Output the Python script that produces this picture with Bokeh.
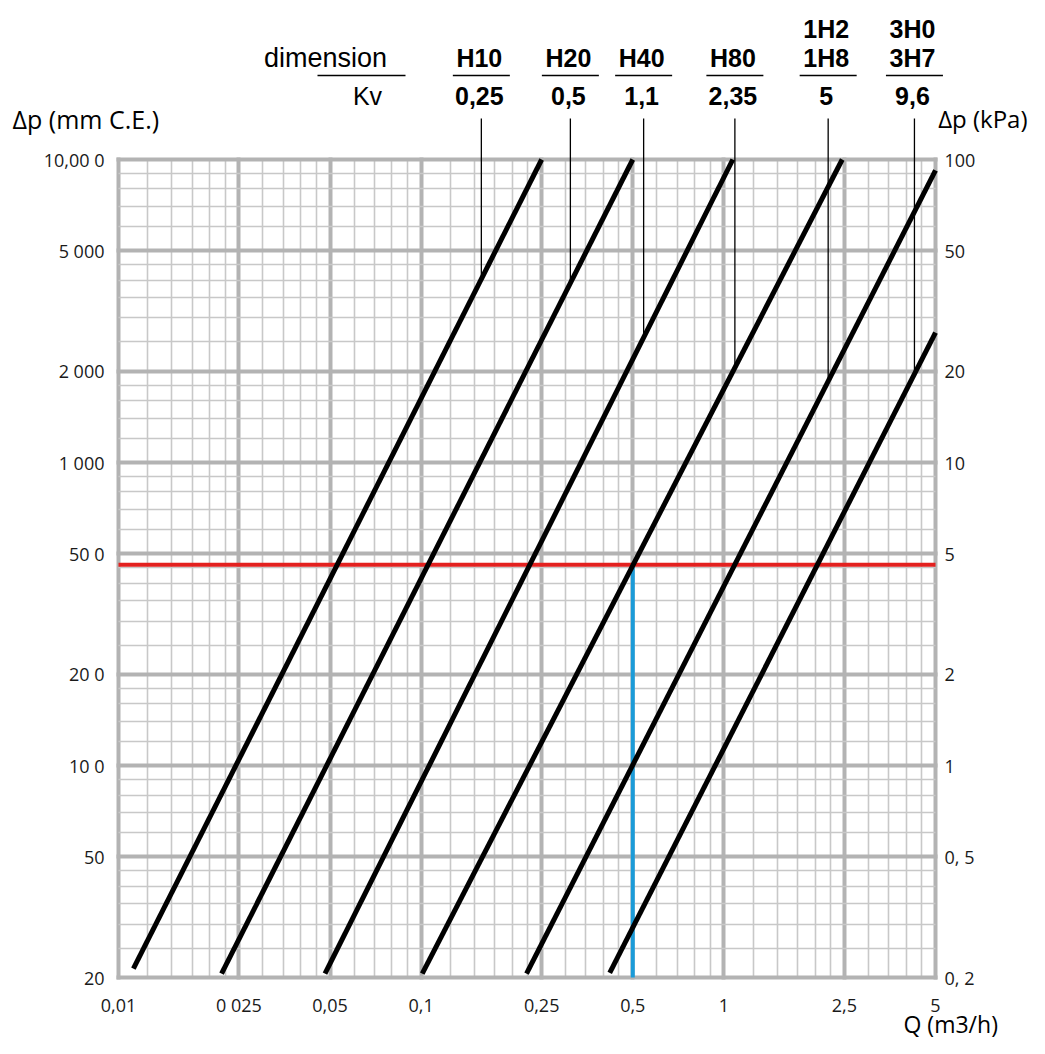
import math
from bokeh.plotting import figure
from bokeh.models import FixedTicker, LogAxis, Range1d, LogScale, Label
from bokeh.embed import file_html
from bokeh.resources import INLINE

# ---------------- data ----------------
q_range = (0.01, 5)          # Q (m3/h)
dp_range = (20, 10000)       # Δp (mm C.E.)
kpa_range = (0.2, 100)       # Δp (kPa)

q_ticks = [0.01, 0.025, 0.05, 0.1, 0.25, 0.5, 1, 2.5, 5]
q_tick_labels = ["0,01", "0 025", "0,05", "0,1", "0,25", "0,5", "1", "2,5", "5"]
dp_ticks = [20, 50, 100, 200, 500, 1000, 2000, 5000, 10000]
dp_tick_labels = ["20", "50", "10 0", "20 0", "50 0", "1 000", "2 000", "5 000", "10,00 0"]
kpa_ticks = [0.2, 0.5, 1, 2, 5, 10, 20, 50, 100]
kpa_tick_labels = ["0, 2", "0, 5", "1", "2", "5", "10", "20", "50", "100"]

q_minor_steps = [1.25, 1.5, 1.75, 2, 2.25, 3, 3.5, 4, 4.5, 6, 7, 8, 9]
dp_minor_steps = [1.2, 1.4, 1.6, 1.8, 2.5, 3, 3.5, 4, 4.5, 6, 7, 8, 9]

models_top = ["", "", "", "", "1H2", "3H0"]
models_mid = ["H10", "H20", "H40", "H80", "1H8", "3H7"]
kv_text = ["0,25", "0,5", "1,1", "2,35", "5", "9,6"]

# straight lines (log-log): start / end points
curve_q0 = [0.0112, 0.0219, 0.0481, 0.1008, 0.2228, 0.4195]
curve_dp0 = [21.4, 20.6, 20.6, 20.6, 20.6, 20.7]
curve_q1 = [0.25, 0.5, 1.07, 2.46, 5.0, 5.0]
curve_dp1 = [10000, 10000, 10000, 10000, 9200, 2685]

leader_q = [0.158, 0.311, 0.543, 1.087, 2.21, 4.26]

red_dp = 460
blue_q = 0.5

# ---------------- geometry ----------------
W, H = 1029, 1038
X0, X1 = 118, 935      # canvas px of q_range
Y0, Y1 = 159, 977      # canvas px of dp_range top / bottom
LQ = math.log10(q_range[1] / q_range[0])
LD = math.log10(dp_range[1] / dp_range[0])
PXD = (X1 - X0) / LQ
PYD = (Y1 - Y0) / LD


def q_at(px):
    return 10 ** (math.log10(q_range[0]) + (px - X0) / PXD)


def dp_at(py):
    return 10 ** (math.log10(dp_range[1]) - (py - Y0) / PYD)


def q_shift(q, dpx):
    return q * 10 ** (dpx / PXD)


def dp_on_curve(i, q):
    a0, a1 = math.log10(curve_q0[i]), math.log10(curve_q1[i])
    b0, b1 = math.log10(curve_dp0[i]), math.log10(curve_dp1[i])
    t = (math.log10(q) - a0) / (a1 - a0)
    return 10 ** (b0 + t * (b1 - b0))


xr = Range1d(q_at(0), q_at(W))
yr = Range1d(dp_at(H), dp_at(0))
kpa_lo = kpa_range[0] * dp_at(H) / dp_range[0]
kpa_hi = kpa_range[1] * dp_at(0) / dp_range[1]

p = figure(width=W, height=H, x_axis_type="log", y_axis_type="log",
           x_range=xr, y_range=yr,
           output_backend="svg", toolbar_location=None, title=None,
           min_border=0, min_border_left=0, min_border_right=0,
           min_border_top=0, min_border_bottom=0)
p.background_fill_color = "white"
p.border_fill_color = "white"
p.outline_line_color = None

GRID_MAJOR = "#b3b3b3"
GRID_MINOR = "#c8c8c8"

q_minor = [s * d for d in [0.01, 0.1, 1] for s in q_minor_steps if s * d < q_range[1]]
dp_minor = [s * d for d in [10, 100, 1000] for s in dp_minor_steps if s * d > dp_range[0]]

gx, gy = p.xgrid[0], p.ygrid[0]
use_grid = "cross_bounds" in gx.properties()
if use_grid:
    gx.ticker = FixedTicker(ticks=q_ticks, minor_ticks=q_minor)
    gy.ticker = FixedTicker(ticks=dp_ticks, minor_ticks=dp_minor)
    gx.cross_bounds = dp_range
    gy.cross_bounds = q_range
    for g in (gx, gy):
        g.grid_line_color = GRID_MAJOR
        g.grid_line_width = 4
        g.grid_line_cap = "square"
        g.minor_grid_line_color = GRID_MINOR
        g.minor_grid_line_width = 1.6
else:
    gx.visible = False
    gy.visible = False
    p.segment(x0=q_minor, y0=[dp_range[0]] * len(q_minor), x1=q_minor,
              y1=[dp_range[1]] * len(q_minor), line_color=GRID_MINOR, line_width=1.6)
    p.segment(x0=[q_range[0]] * len(dp_minor), y0=dp_minor, x1=[q_range[1]] * len(dp_minor),
              y1=dp_minor, line_color=GRID_MINOR, line_width=1.6)
    p.segment(x0=q_ticks, y0=[dp_range[0]] * len(q_ticks), x1=q_ticks,
              y1=[dp_range[1]] * len(q_ticks), line_color=GRID_MAJOR, line_width=4,
              line_cap="square")
    p.segment(x0=[q_range[0]] * len(dp_ticks), y0=dp_ticks, x1=[q_range[1]] * len(dp_ticks),
              y1=dp_ticks, line_color=GRID_MAJOR, line_width=4, line_cap="square")

TICK_FONT = "Open Sans"


def style_axis(ax, ticks, labels, standoff, loc):
    ax.ticker = FixedTicker(ticks=ticks)
    ax.major_label_overrides = {t: l for t, l in zip(ticks, labels)}
    ax.fixed_location = loc
    ax.axis_line_color = None
    ax.major_tick_line_color = None
    ax.minor_tick_line_color = None
    ax.major_tick_out = 0
    ax.major_tick_in = 0
    ax.minor_tick_out = 0
    ax.minor_tick_in = 0
    ax.major_label_standoff = standoff
    ax.major_label_text_font = TICK_FONT
    ax.major_label_text_font_size = "18px"
    ax.major_label_text_color = "#1a1a1a"


style_axis(p.xaxis[0], q_ticks, q_tick_labels, 15, dp_range[0])
style_axis(p.yaxis[0], dp_ticks, dp_tick_labels, 14, q_range[0])

p.extra_y_ranges = {"kpa": Range1d(kpa_lo, kpa_hi)}
p.extra_y_scales = {"kpa": LogScale()}
right = LogAxis(y_range_name="kpa")
style_axis(right, kpa_ticks, kpa_tick_labels, 9, q_range[1])
p.add_layout(right, "right")

# red reference line and blue reading line
p.segment(x0=[q_range[0]], y0=[red_dp], x1=[q_range[1]], y1=[red_dp],
          line_color="#e3211f", line_width=4)
p.segment(x0=[blue_q], y0=[dp_range[0]], x1=[blue_q], y1=[red_dp],
          line_color="#1b9bd8", line_width=4)

# Kv lines
for i in range(len(curve_q0)):
    p.line([curve_q0[i], curve_q1[i]], [curve_dp0[i], curve_dp1[i]],
           line_color="black", line_width=5, line_cap="butt")

HEAD_FONT = "Liberation Sans"


def add_label(x, y, text, size, bold=False, align="center", font=HEAD_FONT):
    p.add_layout(Label(x=x, y=y, text=text, text_align=align,
                       text_baseline="middle", text_font=font,
                       text_font_size=size, text_color="black",
                       text_font_style="bold" if bold else "normal"))


# header rules and leader lines
rule_x0 = [q_at(317)] + [q_shift(lq, -28.5) for lq in leader_q]
rule_x1 = [q_at(405)] + [q_shift(lq, 28.5) for lq in leader_q]
p.segment(x0=rule_x0, y0=[dp_at(75)] * len(rule_x0), x1=rule_x1,
          y1=[dp_at(75)] * len(rule_x1), line_color="black", line_width=1.5)
p.segment(x0=leader_q, y0=[dp_at(118)] * len(leader_q), x1=leader_q,
          y1=[dp_on_curve(i, lq) for i, lq in enumerate(leader_q)],
          line_color="black", line_width=1.3)

add_label(q_at(325), dp_at(57), "dimension", "27px")
add_label(q_at(367), dp_at(95), "Kv", "25px")
for i, lq in enumerate(leader_q):
    if models_top[i]:
        add_label(q_shift(lq, -2), dp_at(28), models_top[i], "25px", bold=True)
    add_label(q_shift(lq, -2), dp_at(57), models_mid[i], "25px", bold=True)
    add_label(q_shift(lq, -2), dp_at(95), kv_text[i], "25px", bold=True)

# axis titles
add_label(q_at(12), dp_at(118), "Δp (mm C.E.)", "25px", align="left", font="Open Sans")
add_label(q_at(1027), dp_at(118), "Δp (kPa)", "24px", align="right", font="Open Sans")
add_label(q_at(903), dp_at(1023), "Q (m3/h)", "23px", align="left", font="Open Sans")

open("out.html", "w").write(file_html(p, INLINE))
